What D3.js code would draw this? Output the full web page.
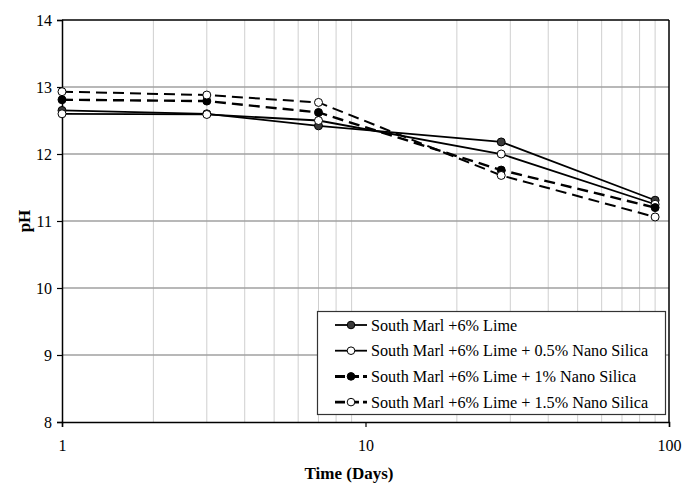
<!DOCTYPE html>
<html><head><meta charset="utf-8">
<script src="https://cdn.jsdelivr.net/npm/d3@7"></script>
<style>body{margin:0;background:#fff}svg{display:block}svg text{font-family:"Liberation Serif","Times New Roman",Times,"Nimbus Roman","DejaVu Serif",serif !important}</style>
</head><body><svg id="c" width="682" height="484"></svg>
<script>
const days = [1, 3, 7, 28, 90];
const seriesNames = [
  "South Marl +6% Lime",
  "South Marl +6% Lime + 0.5% Nano Silica",
  "South Marl +6% Lime + 1% Nano Silica",
  "South Marl +6% Lime + 1.5% Nano Silica"
];
const lime = [12.65, 12.60, 12.42, 12.18, 11.31];
const nano05 = [12.60, 12.59, 12.50, 12.00, 11.25];
const nano1 = [12.81, 12.79, 12.62, 11.76, 11.20];
const nano15 = [12.93, 12.88, 12.77, 11.68, 11.06];
const xTicks = [1, 10, 100];
const yTicks = [8, 9, 10, 11, 12, 13, 14];

const styles = [
  {fill:"#3a3a3a", dash:null, w:1.8},
  {fill:"#fff", dash:null, w:1.8},
  {fill:"#000", dash:"11,6", w:2.4},
  {fill:"#fff", dash:"11,6", w:2}
];
const data = [lime, nano05, nano1, nano15];
const FONT = '"Liberation Serif","Times New Roman",Times,"Nimbus Roman","DejaVu Serif",serif';

const svg = d3.select("#c");
const m = {l:62, r:669, t:20, b:422};
const x = d3.scaleLog().domain([1,100]).range([m.l, m.r]);
const y = d3.scaleLinear().domain([8,14]).range([m.b, m.t]);

// vertical grid (minor log)
const minor = [];
for (let d=1; d<100; d*=10) for (let k=2; k<=9; k++) minor.push(d*k);
svg.append("g").selectAll("line").data(minor).join("line")
  .attr("x1", d=>x(d)).attr("x2", d=>x(d)).attr("y1", m.t).attr("y2", m.b)
  .attr("stroke", "#cfcfcf").attr("stroke-width", 1);
// horizontal grid
svg.append("g").selectAll("line").data(yTicks.slice(1,-1)).join("line")
  .attr("x1", m.l).attr("x2", m.r).attr("y1", d=>y(d)).attr("y2", d=>y(d))
  .attr("stroke", "#a0a0a0").attr("stroke-width", 1.5);
// top & right frame
svg.append("line").attr("x1",m.l).attr("x2",m.r).attr("y1",m.t).attr("y2",m.t).attr("stroke","#000").attr("stroke-width",1.5);
svg.append("line").attr("x1",m.r).attr("x2",m.r).attr("y1",m.t).attr("y2",m.b).attr("stroke","#000").attr("stroke-width",1.5);

// axes
const xAxis = svg.append("g").attr("transform", `translate(0,${m.b})`)
  .call(d3.axisBottom(x).tickValues(xTicks).tickFormat(d3.format("d")).tickSize(5).tickPadding(13));
const yAxis = svg.append("g").attr("transform", `translate(${m.l},0)`)
  .call(d3.axisLeft(y).tickValues(yTicks).tickFormat(d3.format("d")).tickSize(5).tickPadding(5));
[xAxis, yAxis].forEach(a => {
  a.attr("font-family", FONT).attr("font-size", 16);
  a.select(".domain").attr("stroke","#000").attr("stroke-width",1.5);
  a.selectAll(".tick line").attr("stroke","#000").attr("stroke-width",1.2);
  a.selectAll("text").attr("fill","#000");
});

// lines
const line = d3.line().x((d,i)=>x(days[i])).y(d=>y(d));
data.forEach((vals, s) => {
  svg.append("path").datum(vals).attr("d", line).attr("fill","none")
    .attr("stroke","#000").attr("stroke-width", styles[s].w)
    .attr("stroke-dasharray", styles[s].dash);
});
data.forEach((vals, s) => {
  svg.append("g").selectAll("circle").data(vals).join("circle")
    .attr("cx",(d,i)=>x(days[i])).attr("cy",d=>y(d)).attr("r",4)
    .attr("fill", styles[s].fill).attr("stroke","#000").attr("stroke-width",1);
});

// axis titles
svg.append("text").attr("x", 349).attr("y", 479).attr("text-anchor","middle")
  .attr("font-family", FONT).attr("font-weight","bold").attr("font-size",17).text("Time (Days)");
svg.append("text").attr("transform", `translate(30,${(m.t+m.b)/2}) rotate(-90)`)
  .attr("font-family", FONT).attr("text-anchor","middle").attr("font-weight","bold").attr("font-size",17).text("pH");

// legend
const lg = svg.append("g");
lg.append("rect").attr("x",317.5).attr("y",311.5).attr("width",348).attr("height",103)
  .attr("fill","#fff").attr("stroke","#333").attr("stroke-width",1.2);
seriesNames.forEach((name, s) => {
  const yy = 325 + s*25.7;
  lg.append("line").attr("x1",335).attr("x2",367).attr("y1",yy).attr("y2",yy)
    .attr("stroke","#000").attr("stroke-width", styles[s].w + (s>=2?0.6:0))
    .attr("stroke-dasharray", styles[s].dash ? "10,4" : null);
  lg.append("circle").attr("cx",351).attr("cy",yy).attr("r",3.8)
    .attr("fill",styles[s].fill).attr("stroke","#000").attr("stroke-width",1);
  lg.append("text").attr("x",371).attr("y",yy+5.5).attr("font-family", FONT).attr("font-size",16.2).attr("fill","#000").text(name);
});
</script></body></html>
